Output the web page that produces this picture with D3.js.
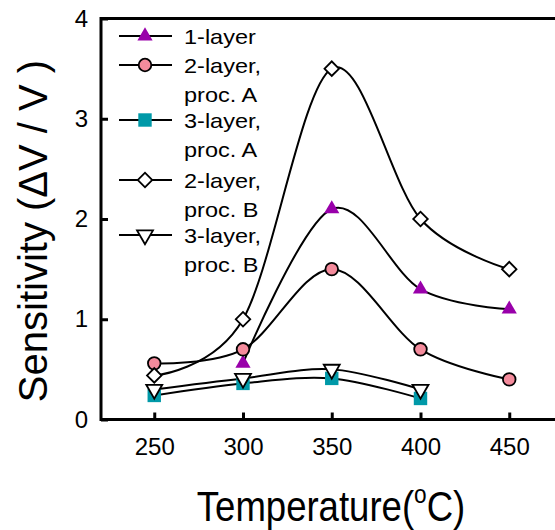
<!DOCTYPE html>
<html>
<head>
<meta charset="utf-8">
<script src="https://cdn.jsdelivr.net/npm/d3@7"></script>
<style>
  html, body { margin: 0; padding: 0; background: #fff; }
  svg { display: block; font-family: "Liberation Sans", Arial, sans-serif; }
</style>
</head>
<body>
<svg id="chart" width="555" height="530"></svg>
<script>
// ---- data ----
const temperatures = [250, 300, 350, 400, 450];
const oneLayer      = [null, 0.56, 2.1, 1.3, 1.1];
const twoLayerA     = [0.56, 0.70, 1.5, 0.70, 0.40];
const threeLayerA   = [0.24, 0.36, 0.41, 0.21, null];
const twoLayerB     = [0.44, 1.00, 3.5, 2.00, 1.50];
const threeLayerB   = [0.30, 0.41, 0.50, 0.30, null];
const xTicks = [250, 300, 350, 400, 450];
const yTicks = [0, 1, 2, 3, 4];
const seriesNames = [["1-layer"], ["2-layer,", "proc. A"], ["3-layer,", "proc. A"], ["2-layer,", "proc. B"], ["3-layer,", "proc. B"]];

const series = [
  { name: seriesNames[0], values: oneLayer,    shape: "tri",  fill: "#9900aa", stroke: "none",  size: 100 },
  { name: seriesNames[1], values: twoLayerA,   shape: "circ", fill: "#f48b9c", stroke: "#000", size: 125 },
  { name: seriesNames[2], values: threeLayerA, shape: "sq",   fill: "#0099a8", stroke: "none",  size: 180 },
  { name: seriesNames[3], values: twoLayerB,   shape: "dia",  fill: "#fff",    stroke: "#000", size: 105 },
  { name: seriesNames[4], values: threeLayerB, shape: "dtri", fill: "#fff",    stroke: "#000", size: 110 }
];

const svg = d3.select("#chart");
const plotLeft = 101, plotTop = 18.5, plotBottom = 419.5;
const x = d3.scaleLinear().domain([220, 480]).range([plotLeft, plotLeft + 260 * 1.775]);
const y = d3.scaleLinear().domain([0, 4]).range([plotBottom, plotTop]);

function symbolFor(s, size) {
  const type = s.shape === "circ" ? d3.symbolCircle
            : (s.shape === "sq" || s.shape === "dia") ? d3.symbolSquare
            : d3.symbolTriangle;
  return d3.symbol().type(type).size(size)();
}
function rotFor(s) {
  return s.shape === "dia" ? 45 : s.shape === "dtri" ? 180 : 0;
}

// ---- axes ----
const yAxis = d3.axisLeft(y).tickValues(yTicks).tickFormat(d3.format("d")).tickSize(-7).tickPadding(13);
const gy = svg.append("g").attr("transform", `translate(${plotLeft},0)`).call(yAxis);
gy.select(".domain").remove();
gy.selectAll(".tick line").attr("stroke", "#000").attr("stroke-width", 3);
gy.selectAll(".tick text").attr("font-size", 24).attr("fill", "#000")
  .attr("font-family", "'Liberation Sans', Arial, sans-serif");

const xAxis = d3.axisBottom(x).tickValues(xTicks).tickFormat(d3.format("d")).tickSize(-7).tickPadding(18);
const gx = svg.append("g").attr("transform", `translate(0,${plotBottom})`).call(xAxis);
gx.select(".domain").remove();
gx.selectAll(".tick line").attr("stroke", "#000").attr("stroke-width", 3);
gx.selectAll(".tick text").attr("font-size", 24).attr("fill", "#000")
  .attr("font-family", "'Liberation Sans', Arial, sans-serif");

// frame
svg.append("rect")
  .attr("x", x.range()[0]).attr("y", y(4))
  .attr("width", x.range()[1] - x.range()[0]).attr("height", y(0) - y(4))
  .attr("fill", "none").attr("stroke", "#000").attr("stroke-width", 3);

// ---- lines ----
const line = d3.line()
  .defined(d => d.v != null)
  .x(d => x(d.t)).y(d => y(d.v))
  .curve(d3.curveCatmullRom.alpha(0));

series.forEach(s => {
  const pts = temperatures.map((t, i) => ({ t, v: s.values[i] })).filter(d => d.v != null);
  svg.append("path").datum(pts)
    .attr("d", line)
    .attr("fill", "none").attr("stroke", "#000").attr("stroke-width", 2);
});

// ---- markers ----
series.forEach(s => {
  const pts = temperatures.map((t, i) => ({ t, v: s.values[i] })).filter(d => d.v != null);
  svg.append("g").selectAll("path").data(pts).join("path")
    .attr("d", symbolFor(s, s.size))
    .attr("transform", d => `translate(${x(d.t)},${y(d.v)}) rotate(${rotFor(s)})`)
    .attr("fill", s.fill)
    .attr("stroke", s.stroke)
    .attr("stroke-width", s.stroke === "none" ? 0 : 1.8);
});

// ---- legend ----
const legendRows = [36, 65, 120, 180, 235];
const leg = svg.append("g");
series.forEach((s, i) => {
  const ly = legendRows[i];
  leg.append("line").attr("x1", 119).attr("x2", 172).attr("y1", ly).attr("y2", ly)
    .attr("stroke", "#000").attr("stroke-width", 2);
  leg.append("path")
    .attr("d", symbolFor(s, s.size))
    .attr("transform", `translate(145,${ly}) rotate(${rotFor(s)})`)
    .attr("fill", s.fill).attr("stroke", s.stroke)
    .attr("stroke-width", s.stroke === "none" ? 0 : 1.8);
  s.name.forEach((txt, j) => {
    leg.append("text")
      .attr("transform", `translate(184,${ly + 8 + j * 28.5}) scale(1.12,1)`)
      .attr("font-size", 21).attr("fill", "#000")
      .text(txt);
  });
});

// ---- axis titles ----
svg.append("text")
  .attr("transform", "translate(47,231) rotate(-90)")
  .attr("text-anchor", "middle")
  .attr("font-size", 40).attr("fill", "#000")
  .text("Sensitivity (\u0394V / V )");

const xt = svg.append("text")
  .attr("transform", "translate(331,521) scale(0.87,1)")
  .attr("text-anchor", "middle")
  .attr("font-size", 42).attr("fill", "#000");
xt.append("tspan").text("Temperature(");
xt.append("tspan").attr("font-size", 26).attr("dy", -18).text("o");
xt.append("tspan").attr("dy", 18).text("C)");
</script>
</body>
</html>
